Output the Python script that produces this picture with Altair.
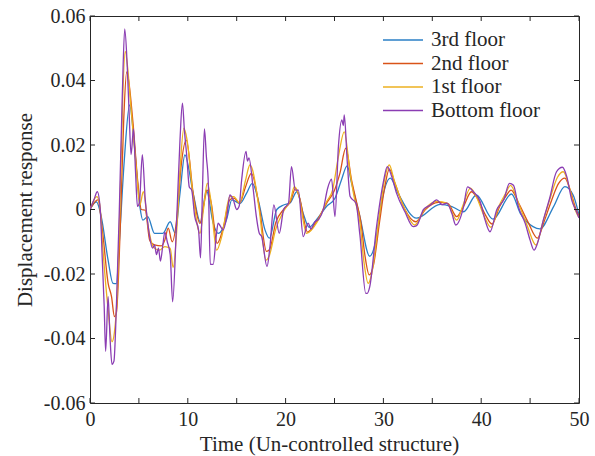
import altair as alt
import pandas as pd

series_names = ["3rd floor", "2nd floor", "1st floor", "Bottom floor"]
series_colors = ["#2a7fc6", "#d95319", "#edb120", "#8b3db3"]

# (time, displacement) pairs
third_floor = [
    (0, 0), (0.65, 0.0024), (1.15, -0.0022), (1.85, -0.0157), (2.35, -0.0229), (2.7, -0.023),
    (3.0, -0.01), (3.5, 0.015), (4.05, 0.0324), (4.55, 0.0195), (5.1, 0.0009), (5.4, -0.0033),
    (5.9, -0.0022), (6.6, -0.0074), (7.45, -0.0074), (8.2, -0.0038), (8.7, -0.0073), (9.2, 0.005),
    (9.7, 0.0169), (10.55, 0.005), (11.3, -0.004), (11.9, 0.006), (12.6, -0.0043), (13.1, -0.0074),
    (14.0, -0.0027), (14.5, 0.003), (15.35, 0.0019), (16.0, 0.005), (16.6, 0.0081), (17.2, 0.003),
    (17.9, -0.0064), (18.35, -0.0089), (19.1, 0.0), (19.8, 0.0014), (20.45, 0.002), (21.15, 0.0055),
    (21.8, -0.0012), (22.4, -0.0055), (23.2, -0.003), (24.2, 0.001), (25.05, 0.0035), (25.7, 0.0091),
    (26.3, 0.0135), (26.75, 0.0081), (27.6, -0.0022), (28.6, -0.0145), (29.2, -0.01), (29.8, 0.002),
    (30.7, 0.0097), (31.5, 0.005), (33.4, -0.0027), (35.8, 0.0016), (37.0, 0.0009), (38.2, -0.0007),
    (39.5, 0.0045), (41.2, -0.003), (43.1, 0.0048), (44.0, -0.0012), (45.3, -0.0053), (46.0, -0.006),
    (47.4, 0.0009), (48.55, 0.0071), (49.4, 0.0045), (50.0, -0.0017),
]
second_floor = [
    (0, 0), (0.8, 0.003), (1.3, -0.0073), (1.85, -0.0228), (2.2, -0.027), (2.5, -0.0332), (2.7, -0.032),
    (3.1, -0.005), (3.45, 0.028), (3.75, 0.0427), (3.95, 0.04), (4.4, 0.0267), (4.9, 0.0081), (5.25, 0.0),
    (5.65, -0.0002), (6.1, -0.0095), (6.6, -0.011), (7.3, -0.0113), (7.65, -0.0095), (8.0, -0.0058),
    (8.4, -0.01), (8.9, -0.002), (9.3, 0.013), (9.85, 0.0215), (10.55, 0.005), (11.25, -0.0043),
    (11.6, 0.001), (12.0, 0.006), (12.4, 0.002), (13.0, -0.0105), (13.6, -0.006), (14.3, 0.003),
    (14.7, 0.0035), (15.3, 0.002), (15.9, 0.007), (16.5, 0.0112), (17.3, 0.001), (18.05, -0.013),
    (18.35, -0.0125), (19.0, -0.004), (19.8, 0.0), (20.5, 0.0025), (21.0, 0.0065), (21.4, 0.004),
    (22.25, -0.007), (23.2, -0.0035), (24.2, 0.002), (25.0, 0.006), (25.55, 0.0112), (26.15, 0.019),
    (26.75, 0.009), (27.2, 0.003), (27.7, -0.004), (28.1, -0.014), (28.55, -0.0203), (29.0, -0.017),
    (29.6, -0.004), (30.2, 0.008), (30.6, 0.0125), (31.2, 0.008), (32.2, 0.0), (33.3, -0.0038),
    (34.3, 0.0), (35.6, 0.0022), (36.6, 0.0018), (37.5, -0.0022), (38.2, 0.001), (39.0, 0.0055),
    (39.6, 0.0035), (40.4, -0.0015), (41.1, -0.0045), (41.9, 0.001), (42.6, 0.0045), (43.05, 0.006),
    (43.9, 0.0015), (44.8, -0.004), (45.75, -0.0089), (46.4, -0.004), (47.1, 0.002), (47.9, 0.008),
    (48.55, 0.0097), (49.1, 0.006), (49.7, 0.0), (50.0, -0.002),
]
first_floor = [
    (0, 0), (0.7, 0.004), (1.0, 0.0015), (1.3, -0.0115), (1.85, -0.031), (2.25, -0.041), (2.5, -0.038),
    (2.8, -0.025), (3.1, 0.005), (3.35, 0.035), (3.6, 0.049), (3.85, 0.044), (4.15, 0.033), (4.75, 0.012),
    (5.1, 0.0014), (5.45, 0.0055), (5.95, -0.0053), (6.45, -0.0115), (7.1, -0.0126), (7.65, -0.0115),
    (8.2, -0.012), (8.5, -0.018), (8.9, -0.005), (9.2, 0.012), (9.6, 0.0252), (9.9, 0.022), (10.55, 0.004),
    (11.25, -0.0074), (11.6, 0.0), (12.0, 0.0082), (12.3, 0.004), (12.95, -0.0126), (13.5, -0.008),
    (14.3, 0.004), (14.7, 0.004), (15.3, 0.002), (15.9, 0.009), (16.35, 0.0138), (16.6, 0.0125),
    (17.3, 0.0), (18.0, -0.0157), (18.3, -0.0146), (19.0, -0.006), (19.8, -0.0005), (20.5, 0.003),
    (20.9, 0.0071), (21.3, 0.005), (22.15, -0.0074), (23.2, -0.004), (24.2, 0.0025), (24.8, 0.006),
    (25.4, 0.0164), (26.0, 0.0241), (26.6, 0.0112), (27.0, 0.004), (27.6, -0.004), (28.0, -0.016),
    (28.45, -0.0229), (28.8, -0.02), (29.5, -0.004), (30.1, 0.009), (30.6, 0.0138), (31.1, 0.009),
    (32.2, 0.0), (33.2, -0.0048), (34.2, 0.0), (35.5, 0.0025), (36.5, 0.002), (37.5, -0.0033),
    (38.1, 0.001), (38.9, 0.0066), (39.5, 0.004), (40.3, -0.002), (41.0, -0.0055), (41.8, 0.001),
    (42.5, 0.005), (43.0, 0.0075), (43.8, 0.002), (44.7, -0.005), (45.6, -0.011), (46.3, -0.004),
    (47.0, 0.003), (47.8, 0.01), (48.4, 0.0117), (49.0, 0.007), (49.6, 0.0), (50.0, -0.0025),
]
bottom_floor = [
    (0, 0), (0.4, 0.003), (0.75, 0.0055), (1.05, 0.0), (1.25, -0.015), (1.45, -0.03), (1.6, -0.044),
    (1.85, -0.027), (2.05, -0.04), (2.25, -0.048), (2.45, -0.047), (2.7, -0.03), (3.0, 0.0), (3.3, 0.035),
    (3.55, 0.056), (3.8, 0.045), (4.0, 0.03), (4.2, 0.017), (4.45, 0.025), (4.65, 0.012), (4.85, 0.001),
    (5.05, 0.002), (5.35, 0.017), (5.65, 0.003), (5.9, -0.004), (6.1, -0.0085), (6.4, -0.012),
    (6.6, -0.011), (6.8, -0.014), (7.0, -0.012), (7.2, -0.016), (7.45, -0.011), (7.65, -0.007),
    (7.9, -0.01), (8.2, -0.014), (8.45, -0.0286), (8.85, -0.0042), (9.2, 0.0215), (9.45, 0.033),
    (9.65, 0.0247), (9.9, 0.0164), (10.15, 0.007), (10.4, 0.006), (10.7, -0.002), (11.1, -0.0064),
    (11.3, -0.015), (11.5, 0.006), (11.7, 0.025), (11.9, 0.0164), (12.1, 0.008), (12.3, -0.017),
    (12.6, -0.017), (12.9, -0.0084), (13.1, -0.0042), (13.3, -0.005), (13.6, -0.0064), (14.0, -0.002),
    (14.3, 0.0045), (14.65, 0.003), (15.0, 0.0), (15.25, 0.001), (15.5, 0.009), (15.95, 0.018),
    (16.1, 0.015), (16.25, 0.016), (16.7, 0.006), (17.0, -0.002), (17.3, -0.0073), (17.55, -0.0084),
    (18.1, -0.0177), (18.4, -0.0115), (18.8, 0.0014), (19.35, -0.0074), (19.8, 0.0), (20.3, 0.002),
    (20.6, 0.0133), (21.0, 0.006), (21.3, 0.006), (21.8, -0.0084), (22.3, -0.0042), (22.6, -0.006),
    (23.0, -0.0038), (23.4, -0.003), (23.85, 0.0), (24.3, 0.0066), (24.7, 0.0094), (25.05, -0.0022),
    (25.4, 0.0195), (25.75, 0.0278), (25.9, 0.026), (26.0, 0.0293), (26.3, 0.015), (26.6, 0.004),
    (27.2, 0.0019), (27.6, -0.008), (28.2, -0.026), (28.35, -0.026), (28.6, -0.024), (29.3, -0.0053),
    (30.0, 0.0086), (30.4, 0.0133), (30.85, 0.0102), (31.35, 0.005), (32.2, -0.0007), (33.05, -0.0053),
    (33.4, -0.005), (34.1, 0.0), (34.8, 0.0014), (35.45, 0.003), (36.0, 0.0015), (36.5, 0.002),
    (37.0, -0.0012), (37.4, -0.0048), (38.2, 0.0009), (38.6, 0.007), (39.2, 0.0055), (39.9, 0.0024),
    (40.4, -0.0033), (40.9, -0.0069), (41.6, 0.0), (42.3, 0.003), (42.9, 0.0081), (43.3, 0.0075),
    (43.8, 0.0009), (44.5, -0.0043), (45.0, -0.0095), (45.4, -0.0126), (45.75, -0.0105), (46.35, -0.0033),
    (47.0, 0.0035), (47.7, 0.0117), (48.3, 0.0131), (48.75, 0.0102), (49.25, 0.003), (49.75, -0.0007),
    (50.0, -0.0026),
]

x_tick_values = [0, 5, 10, 15, 20, 25, 30, 35, 40, 45, 50]
x_label_values = [0, 10, 20, 30, 40, 50]
y_tick_values = [-0.06, -0.04, -0.02, 0, 0.02, 0.04, 0.06]

rows = []
for name, pts in zip(series_names, [third_floor, second_floor, first_floor, bottom_floor]):
    for t, v in pts:
        rows.append({"t": t, "v": v, "series": name})
df = pd.DataFrame(rows)

W, H = 489, 387
FONT = "Liberation Serif"
INK = "#262626"

xscale = alt.Scale(domain=[0, 50], nice=False, zero=False)
yscale = alt.Scale(domain=[-0.06, 0.06], nice=False, zero=False)

x_axis = alt.Axis(title="Time (Un-controlled structure)", values=x_label_values,
                  ticks=False, domain=False, grid=False, labelPadding=6, titlePadding=4,
                  labelFlush=False, titleX=239)
y_axis = alt.Axis(title="Displacement response", values=y_tick_values,
                  ticks=False, domain=False, grid=False, labelPadding=5, titlePadding=8,
                  labelFlush=False,
                  labelExpr="datum.value == 0 ? '0' : (datum.value < 0 ? '-' : '') + format(abs(datum.value), '.2f')")

lines = alt.Chart(df).mark_line(strokeWidth=1.3, clip=True, interpolate="monotone").encode(
    x=alt.X("t:Q", scale=xscale, axis=x_axis),
    y=alt.Y("v:Q", scale=yscale, axis=y_axis),
    color=alt.Color("series:N",
                    scale=alt.Scale(domain=series_names, range=series_colors),
                    sort=series_names,
                    legend=alt.Legend(title=None, orient="none", legendX=292, legendY=13,
                                      symbolType="M-1,0L3,0", symbolSize=400,
                                      symbolStrokeWidth=1.3, labelFontSize=21,
                                      labelFont=FONT, labelColor=INK, labelOffset=27,
                                      rowPadding=2.5, padding=0)),
    detail="series:N",
)

xt = pd.DataFrame({"t": x_tick_values})
yt = pd.DataFrame({"v": y_tick_values})

xticks_bottom = alt.Chart(xt).mark_rule(color=INK, strokeWidth=1).encode(
    x=alt.X("t:Q", scale=xscale, axis=x_axis), y=alt.value(H), y2=alt.value(H - 5))
xticks_top = alt.Chart(xt).mark_rule(color=INK, strokeWidth=1).encode(
    x=alt.X("t:Q", scale=xscale, axis=x_axis), y=alt.value(0), y2=alt.value(5))
yticks_left = alt.Chart(yt).mark_rule(color=INK, strokeWidth=1).encode(
    y=alt.Y("v:Q", scale=yscale, axis=y_axis), x=alt.value(0), x2=alt.value(5))
yticks_right = alt.Chart(yt).mark_rule(color=INK, strokeWidth=1).encode(
    y=alt.Y("v:Q", scale=yscale, axis=y_axis), x=alt.value(W), x2=alt.value(W - 5))

chart = alt.layer(lines, xticks_bottom, xticks_top, yticks_left, yticks_right).properties(
    width=W, height=H,
    autosize=alt.AutoSizeParams(type="none"),
    padding={"left": 90, "top": 16, "right": 16, "bottom": 53},
    background="white",
).configure_view(
    stroke=INK, strokeWidth=1
).configure_axis(
    labelFont=FONT, labelFontSize=20, labelColor=INK,
    titleFont=FONT, titleFontSize=21, titleColor=INK, titleFontWeight="normal",
)

chart.save("out.html", embed_options={"renderer": "svg", "actions": False})
